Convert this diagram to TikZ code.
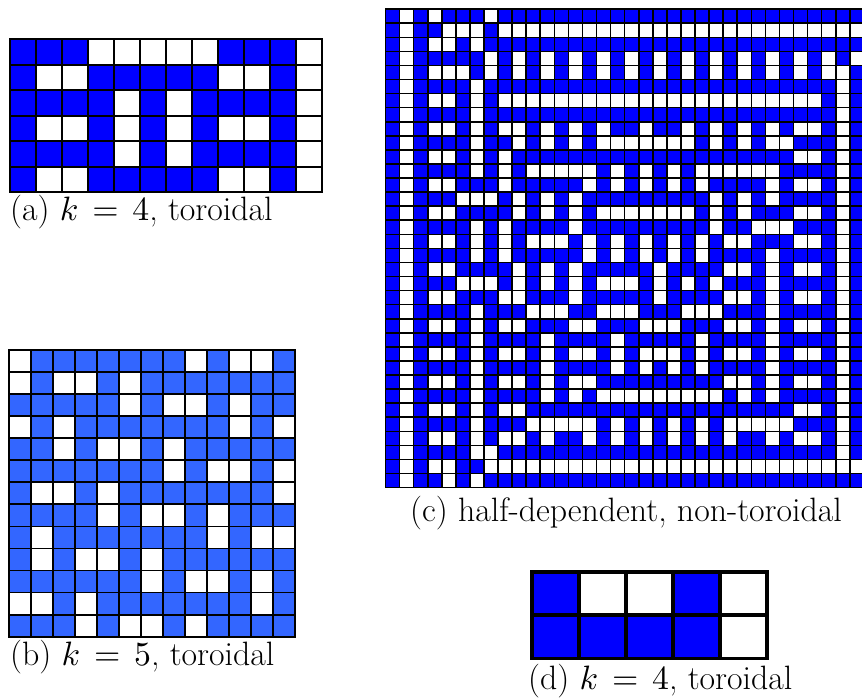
\documentclass[tikz,border=0pt]{standalone}
\usepackage{tikz}
\DeclareFontFamily{OML}{cmm}{\skewchar\font127 }
\DeclareFontShape{OML}{cmm}{m}{it}{<-> cmmi10}{}
\DeclareFontFamily{OT1}{cmr}{\hyphenchar\font45 }
\DeclareFontShape{OT1}{cmr}{m}{n}{<-> cmr10}{}
\definecolor{cblue}{RGB}{0,0,255}
\definecolor{lblue}{RGB}{51,102,255}
\tikzset{
  gline/.style={draw=black, line cap=rect},
  capt/.style={anchor=base west, inner sep=0pt, font=\fontsize{33.8}{40}\selectfont}
}
\begin{document}
\begin{tikzpicture}[x=1pt,y=-1pt]
\useasboundingbox (0,0) rectangle (862,700);
\fill[white] (0,0) rectangle (862,700);

% ---------- grid (a) ----------
\begin{scope}[shift={(9.5,39.5)}, x=26pt, y=-25.5pt]
\foreach \row [count=\r from 0] in {
 {1,1,1,0,0,0,0,0,1,1,1,0},
 {1,0,0,1,1,1,1,1,0,0,1,0},
 {1,1,1,1,0,1,0,1,1,1,1,0},
 {1,0,0,1,0,1,0,1,0,0,1,0},
 {1,1,1,1,0,1,0,1,1,1,1,0},
 {1,0,0,1,1,1,1,1,0,0,1,0}} {
  \foreach \v [count=\c from 0] in \row {
    \ifnum\v=1 \fill[cblue] (\c,\r) rectangle ++(1,1); \fi
  }
}
\foreach \i in {0,...,12} \draw[gline, line width=2pt] (\i,0) -- (\i,6);
\foreach \j in {0,...,6} \draw[gline, line width=2pt] (0,\j) -- (12,\j);
\end{scope}

% ---------- grid (b) ----------
\begin{scope}[shift={(9,350)}, x=22pt, y=-22.05pt]
\foreach \row [count=\r from 0] in {
 {0,1,1,1,1,1,1,1,0,1,0,0,1},
 {0,1,0,0,1,0,1,1,1,1,1,1,1},
 {1,1,1,1,1,0,1,0,0,1,0,1,1},
 {0,1,0,1,1,1,1,1,1,1,0,1,0},
 {1,1,0,1,0,0,1,0,1,1,1,1,1},
 {1,1,1,1,1,1,1,0,1,0,0,1,0},
 {1,0,0,1,0,1,1,1,1,1,1,1,0},
 {1,1,1,1,0,1,0,0,1,0,1,1,1},
 {1,0,1,1,1,1,1,1,1,0,1,0,0},
 {1,0,1,0,0,1,0,1,1,1,1,1,1},
 {1,1,1,1,1,1,0,1,0,0,1,0,1},
 {0,0,1,0,1,1,1,1,1,1,1,0,1},
 {1,1,1,0,1,0,0,1,0,1,1,1,1}} {
  \foreach \v [count=\c from 0] in \row {
    \ifnum\v=1 \fill[lblue] (\c,\r) rectangle ++(1,1); \fi
  }
}
\foreach \i in {0,...,13} \draw[gline, line width=1.8pt] (\i,0) -- (\i,13);
\foreach \j in {0,...,13} \draw[gline, line width=1.8pt] (0,\j) -- (13,\j);
\end{scope}

% ---------- grid (c) ----------
\begin{scope}[shift={(385.5,9.2)}, x=14.07pt, y=-14.07pt]
\foreach \row [count=\r from 0] in {
 {1,0,1,0,1,1,1,0,1,1,1, 1,1,1,1,1,1,1,1,1,1,1, 1,1,1,1,1,1,1,1,1,1,1,1},
 {1,0,1,1,0,0,0,1,0,0,0, 0,0,0,0,0,0,0,0,0,0,0, 0,0,0,0,0,0,0,0,0,0,0,0},
 {1,0,1,0,0,1,0,1,1,1,1, 1,1,1,1,1,1,1,1,1,1,1, 1,1,1,1,1,1,1,1,1,1,1,1},
 {1,0,1,1,1,1,1,0,1,0,1, 0,1,0,1,0,1,0,1,0,1,0, 1,0,1,0,1,0,1,0,1,0,1,0},
 {1,0,1,0,0,0,1,0,1,0,1, 0,1,0,1,0,1,0,1,0,1,0, 1,0,1,0,1,0,1,0,1,0,0,1},
 {1,0,1,1,1,1,0,1,1,1,1, 1,1,1,1,1,1,1,1,1,1,1, 1,1,1,1,1,1,1,1,1,1,0,1},
 {1,0,1,0,0,1,0,1,0,0,0, 0,0,0,0,0,0,0,0,0,0,0, 0,0,0,0,0,0,0,0,0,1,0,1},
 {1,0,1,1,1,1,0,1,1,1,1, 1,1,1,1,1,1,1,1,1,1,1, 1,1,1,1,1,1,1,1,1,1,0,1},
 {1,0,1,0,0,1,0,1,0,0,1, 0,1,0,1,0,1,1,0,1,1,0, 1,0,1,0,1,0,1,0,0,1,0,1},
 {1,0,1,1,1,1,0,1,1,0,1, 0,1,0,1,0,0,0,0,0,0,0, 1,0,1,0,1,0,0,1,1,1,0,1},
 {1,0,1,0,0,1,0,1,0,1,1, 1,1,1,1,1,1,1,1,1,1,1, 1,1,1,1,1,1,1,0,0,1,0,1},
 {1,0,1,1,1,1,0,1,0,1,0, 0,0,0,0,1,0,1,0,1,0,1, 0,0,0,0,0,0,1,1,1,1,0,1},
 {1,0,1,0,0,1,1,1,0,1,1, 1,1,1,0,1,0,1,0,1,0,1, 0,1,1,1,1,0,1,0,0,1,0,1},
 {1,0,1,1,1,0,0,0,1,0,1, 0,1,0,1,1,1,1,1,1,1,1, 1,0,1,0,1,0,1,1,1,1,0,1},
 {1,0,1,0,0,1,1,1,1,0,1, 0,1,0,1,0,0,0,0,0,0,0, 1,0,1,0,1,1,1,0,0,1,0,1},
 {1,0,1,1,1,1,0,1,0,1,1, 1,1,0,1,1,1,1,1,1,1,1, 1,0,1,1,0,0,0,1,1,1,0,1},
 {1,0,1,0,0,1,0,1,0,1,0, 0,0,1,0,1,0,1,0,1,0,1, 0,1,0,0,1,1,1,0,0,1,0,1},
 {1,0,1,1,1,1,0,1,0,1,1, 1,1,1,0,1,0,1,0,1,0,1, 0,1,1,1,1,0,1,1,1,1,0,1},
 {1,0,1,0,0,1,1,1,1,0,1, 0,1,0,1,1,1,1,1,0,1,1, 1,1,0,0,1,0,1,0,0,1,0,1},
 {1,0,1,1,1,0,0,0,1,0,1, 0,1,0,1,0,0,0,1,0,1,0, 1,0,1,1,1,0,1,1,1,1,0,1},
 {1,0,1,0,0,1,1,1,0,0,1, 1,1,0,1,1,1,1,1,0,1,1, 1,1,0,0,1,0,1,0,0,1,0,1},
 {1,0,1,1,1,1,0,1,1,1,0, 0,0,1,1,0,0,0,1,1,1,0, 0,0,1,1,1,0,1,1,1,1,0,1},
 {1,0,1,0,0,1,0,1,0,0,1, 1,1,0,0,1,1,1,0,0,0,1, 1,1,0,0,1,0,1,0,0,1,0,1},
 {1,0,1,1,1,1,0,1,1,1,1, 0,1,1,1,1,0,1,1,1,1,1, 0,1,1,1,1,0,1,1,1,1,0,1},
 {1,0,1,0,0,1,0,1,0,0,1, 0,1,0,0,1,0,1,0,0,0,1, 0,1,0,0,1,0,1,0,0,1,0,1},
 {1,0,1,1,1,1,0,1,1,1,1, 0,1,1,1,1,0,1,0,1,0,1, 0,1,1,1,1,0,1,1,1,1,0,1},
 {1,0,1,0,0,1,0,1,0,0,1, 0,1,0,0,1,1,1,1,1,1,1, 1,1,0,0,1,0,1,0,0,1,0,1},
 {1,0,1,1,1,1,0,1,1,1,1, 0,1,0,1,0,0,0,0,0,0,0, 0,0,1,0,1,0,1,1,1,1,0,1},
 {1,0,1,0,0,1,0,1,0,0,1, 1,1,1,1,1,1,1,1,1,1,1, 1,1,1,1,1,1,1,0,0,1,0,1},
 {1,0,1,1,1,1,0,1,1,1,0, 0,0,0,0,1,0,1,0,1,0,1, 0,1,0,0,0,0,0,1,1,1,0,1},
 {1,0,1,0,0,1,0,1,0,0,1, 0,1,1,0,1,0,1,0,1,0,1, 0,1,0,1,1,0,1,0,0,1,0,1},
 {1,0,1,1,1,1,0,0,1,1,1, 1,1,1,1,1,1,1,1,1,1,1, 1,1,1,1,1,1,1,1,1,1,0,1},
 {1,0,1,0,0,1,1,0,0,0,0, 0,0,0,0,0,0,0,0,0,0,0, 0,0,0,0,0,0,0,0,0,0,0,0},
 {1,0,1,1,0,1,0,1,1,1,1, 1,1,1,1,1,1,1,1,1,1,1, 1,1,1,1,1,1,1,1,1,1,1,1}} {
  \foreach \v [count=\c from 0] in \row {
    \ifnum\v=1 \fill[cblue] (\c,\r) rectangle ++(1,1); \fi
  }
}
\foreach \i in {0,...,34} \draw[gline, line width=1.6pt] (\i,0) -- (\i,34);
\foreach \j in {0,...,34} \draw[gline, line width=1.6pt] (0,\j) -- (34,\j);
\end{scope}

% ---------- grid (d) ----------
\begin{scope}[shift={(531.7,571.7)}, x=47pt, y=-43.3pt]
\foreach \row [count=\r from 0] in {
 {1,0,0,1,0},
 {1,1,1,1,0}} {
  \foreach \v [count=\c from 0] in \row {
    \ifnum\v=1 \fill[cblue] (\c,\r) rectangle ++(1,1); \fi
  }
}
\foreach \i in {0,...,5} \draw[gline, line width=3.6pt] (\i,0) -- (\i,2);
\foreach \j in {0,...,2} \draw[gline, line width=3.6pt] (0,\j) -- (5,\j);
\end{scope}

% ---------- captions ----------
\node[capt] (capa) at (10,221) {(a) $k\;=\;4$, toroidal};
\node[capt] (capb) at (10,665) {(b) $k\;=\;5$, toroidal};
\node[capt] (capc) at (410,521) {(c) half-dependent, non-toroidal};
\node[capt] (capd) at (528,689) {(d) $k\;=\;4$, toroidal};
\end{tikzpicture}
\end{document}
